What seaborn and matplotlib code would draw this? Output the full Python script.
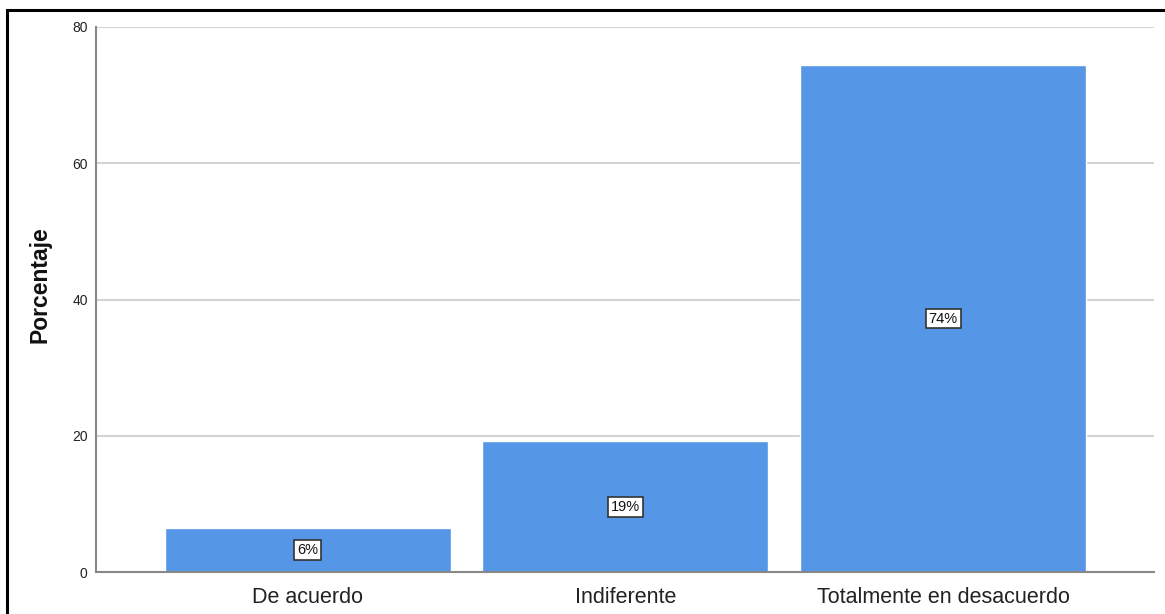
import matplotlib
matplotlib.use("Agg")
import matplotlib.pyplot as plt
import seaborn as sns
import pandas as pd
from matplotlib.patches import Rectangle

categories = ["De acuerdo", "Indiferente", "Totalmente en desacuerdo"]
values = [6.4, 19.2, 74.4]
yticks = [0, 20, 40, 60, 80]

sns.set_style("white")
plt.rcParams['font.family'] = ['Liberation Sans', 'DejaVu Sans']

df = pd.DataFrame({"cat": categories, "val": values})

fig = plt.figure(figsize=(11.65, 6.14), dpi=100)
ax = fig.add_axes([96/1165, 42/614, (1154-96)/1165, (572-27)/614])

ax.yaxis.grid(True, color="#cfcfcf", linewidth=1.3)
ax.set_axisbelow(True)
sns.barplot(data=df, x="cat", y="val", color="#5596E6", saturation=1, width=0.9, ax=ax, zorder=2)

ax.set_xlim(-0.666, 2.664)
ax.set_ylim(0, 80)
ax.set_yticks(yticks)
ax.set_yticklabels([str(t) for t in yticks], fontsize=10, color="#222222")
ax.tick_params(axis="both", length=0)
ax.tick_params(axis="x", labelsize=15.5, pad=11, labelcolor="#222222")
ax.tick_params(axis="y", pad=6)
ax.set_xlabel("")
ax.set_ylabel("Porcentaje", fontsize=16.5, fontweight="bold", color="#111111")
ax.yaxis.set_label_coords(-0.042, 0.527)

for side in ["top", "right"]:
    ax.spines[side].set_visible(False)
for side in ["left", "bottom"]:
    ax.spines[side].set_color("#888888")
    ax.spines[side].set_linewidth(1.5)

for i, v in enumerate(values):
    ax.text(i, v / 2, f"{v:.0f}%", ha="center", va="center", fontsize=10.5, color="#111111",
            bbox=dict(boxstyle="square,pad=0.2", facecolor="white", edgecolor="#333333", linewidth=1.2),
            zorder=5)

fig.patches.append(Rectangle((7/1165, -0.1), 2.0, (614-10)/614 + 0.1, transform=fig.transFigure,
                             fill=False, edgecolor="black", linewidth=2.2))

fig.savefig("out.png", dpi=100)
